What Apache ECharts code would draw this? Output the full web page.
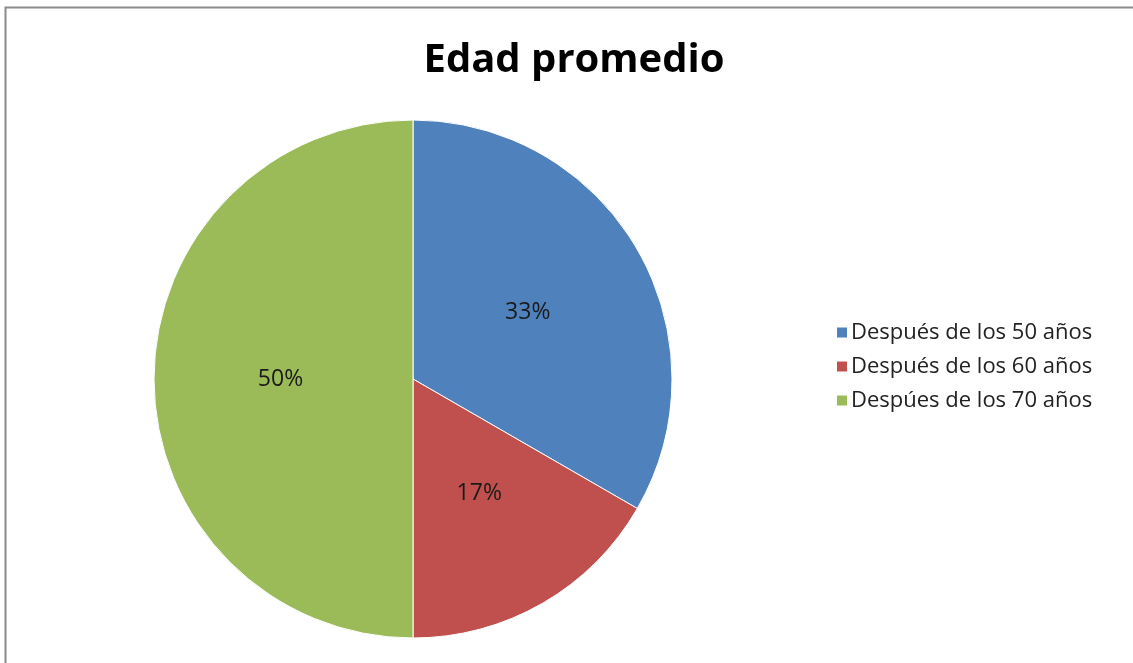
<!DOCTYPE html>
<html><head><meta charset="utf-8">
<script src="https://cdn.jsdelivr.net/npm/echarts@6/dist/echarts.min.js"></script>
<style>html,body{margin:0;padding:0;background:#fff}#c{width:1133px;height:663px}</style>
</head><body><div id="c"></div>
<script>
const titleText = "Edad promedio";
const categories = ["Después de los 50 años", "Después de los 60 años", "Despúes de los 70 años"];
const values = [2, 1, 3];
const colors = ["#4F81BD", "#C0504D", "#9BBB59"];

const chart = echarts.init(document.getElementById('c'));
chart.setOption({
  animation: false,
  backgroundColor: '#fff',
  graphic: [{
    type: 'rect', shape: {x: 5.5, y: 7.5, width: 1140, height: 700},
    style: {fill: 'none', stroke: '#8a8a8a', lineWidth: 2}, z: -1
  }],
  title: {
    text: titleText, left: 569, top: 36, textAlign: 'center',
    textStyle: {fontFamily: 'Open Sans', fontWeight: 'bold', fontSize: 40, color: '#000'}
  },
  legend: {
    orient: 'vertical', left: 830, top: 315, itemWidth: 12, itemHeight: 12, itemGap: 9,
    icon: 'rect',
    textStyle: {fontFamily: 'Open Sans', fontSize: 22, lineHeight: 25, color: '#222', padding: [0,0,0,-2]},
    data: categories
  },
  series: [{
    type: 'pie', center: [413, 379], radius: 259, startAngle: 90, clockwise: true,
    label: {position: 'inside', formatter: p => Math.round(p.percent) + '%',
      fontFamily: 'Open Sans', fontSize: 23, color: '#1a1a1a'},
    labelLine: {show: false},
    itemStyle: {borderColor: '#fff', borderWidth: 1},
    data: categories.map((n, i) => ({name: n, value: values[i], itemStyle: {color: colors[i]}}))
  }]
});
</script></body></html>
